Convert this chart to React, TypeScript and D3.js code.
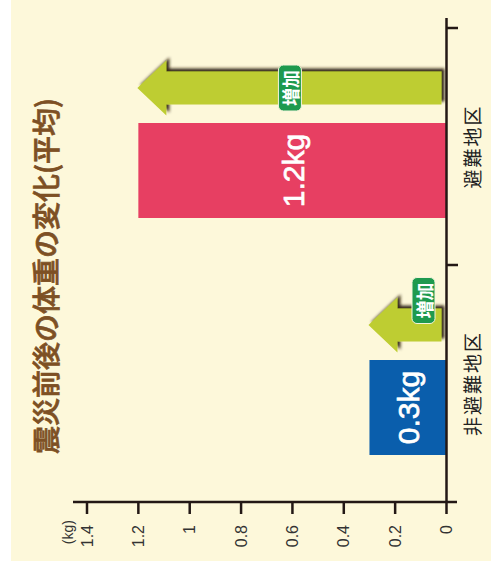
import React from "react";
import * as d3 from "d3";

const categories = ["避難地区", "非避難地区"];
const values = [1.2, 0.3];
const valueLabels = ["1.2kg", "0.3kg"];
const barColors = ["#E73F62", "#0A5EAC"];
const ticks = [0, 0.2, 0.4, 0.6, 0.8, 1, 1.2, 1.4];
const tickLabels = ["0", "0.2", "0.4", "0.6", "0.8", "1", "1.2", "1.4"];
const title = "震災前後の体重の変化(平均)";
const badgeText = "増加";
const unitLabel = "(kg)";

const W = 491;
const H = 566;
const JP = "'Noto Sans CJK JP', 'Noto Sans', sans-serif";
const SANS = "'Liberation Sans', Arial, sans-serif";
const AXIS = "#231815";

export default function App() {
  const x = d3.scaleLinear().domain([0, 1.4]).range([446.5, 87]);
  const y = d3.scaleBand<string>().domain(categories).range([28, 502]);
  const axisY = 502;
  const axisX = x(0);

  const arrowPath = (v: number, cy: number) => {
    const tip = x(v) - 1;
    const end = axisX - 5;
    const headLen = 29;
    const hh = 27.5;
    const sh = 16.5;
    const p = d3.path();
    p.moveTo(tip, cy);
    p.lineTo(tip + headLen, cy - hh);
    p.lineTo(tip + headLen, cy - sh);
    p.lineTo(end, cy - sh);
    p.lineTo(end, cy + sh);
    p.lineTo(tip + headLen, cy + sh);
    p.lineTo(tip + headLen, cy + hh);
    p.closePath();
    return p.toString();
  };

  return (
    <svg
      width={W}
      height={H}
      style={{ position: "absolute", left: 0, top: 0 }}
      xmlns="http://www.w3.org/2000/svg"
    >
      <defs>
        <filter id="sh" x="-10%" y="-40%" width="120%" height="180%">
          <feDropShadow dx="3" dy="-3" stdDeviation="1.6" floodColor="#2a1a08" floodOpacity="0.95" />
        </filter>
      </defs>
      <rect x={0} y={0} width={W} height={H} fill="#ffffff" />
      <rect x={11} y={0} width={W - 11} height={561} fill="#FDF8DA" />

      {/* title */}
      <text
        transform={`translate(44.5,276) rotate(-90)`}
        textAnchor="middle"
        dominantBaseline="central"
        fontFamily={JP}
        fontWeight={500}
        fontSize={28}
        fill="#7D5024"
        stroke="#7D5024"
        strokeWidth={0.7}
      >
        {title}
      </text>

      {/* bars, arrows */}
      {categories.map((c, i) => {
        const b = y(c) as number;
        const v = values[i];
        const y0 = b + 95;
        const y1 = b + 190;
        const cy = b + 60;
        const tip = x(v);
        const end = axisX - 5;
        const len = end - tip;
        const big = len > 150;
        const bx = big ? (tip + end) / 2 : end - 18;
        const by = big ? cy : cy - 24.5;
        return (
          <g key={c}>
            <rect x={x(v)} y={y0} width={axisX - x(v)} height={y1 - y0} fill={barColors[i]} />
            <text
              transform={`translate(${(x(v) + axisX) / 2 + 1},${(y0 + y1) / 2}) rotate(-90)`}
              textAnchor="middle"
              dominantBaseline="central"
              fontFamily={SANS}
              fontSize={30}
              fill="#ffffff"
              stroke="#ffffff"
              strokeWidth={0.7}
            >
              {valueLabels[i]}
            </text>
            <path d={arrowPath(v, cy)} fill="#BECD31" filter="url(#sh)" />
            <rect
              x={bx - 11.5}
              y={by - 23}
              width={23}
              height={46}
              rx={5}
              fill="#1E9A4E"
              stroke="#f4f4dc"
              strokeWidth={1}
            />
            <text
              transform={`translate(${bx + 0.5},${by}) rotate(-90)`}
              textAnchor="middle"
              dominantBaseline="central"
              fontFamily={JP}
              fontWeight="bold"
              fontSize={18}
              fill="#ffffff"
            >
              {badgeText}
            </text>
            <text
              transform={`translate(471,${b + y.bandwidth() / 2}) rotate(-90)`}
              textAnchor="middle"
              dominantBaseline="central"
              fontFamily={JP}
              fontSize={19}
              letterSpacing={2}
              fill="#222222"
            >
              {c}
            </text>
          </g>
        );
      })}

      {/* value axis */}
      <line x1={73} x2={457} y1={axisY} y2={axisY} stroke={AXIS} strokeWidth={2.5} />
      {ticks.map((t, i) => (
        <g key={t}>
          <line x1={x(t)} x2={x(t)} y1={axisY} y2={axisY + 12} stroke={AXIS} strokeWidth={2.5} />
          <text
            transform={`translate(${x(t)},525) rotate(-90)`}
            textAnchor="end"
            dominantBaseline="central"
            fontFamily={SANS}
            fontSize={16}
            fill="#333333"
          >
            {tickLabels[i]}
          </text>
        </g>
      ))}
      <text
        transform={`translate(68,520) rotate(-90)`}
        textAnchor="end"
        dominantBaseline="central"
        fontFamily={SANS}
        fontSize={14}
        fill="#333333"
      >
        {unitLabel}
      </text>

      {/* category axis */}
      <line x1={axisX} x2={axisX} y1={18} y2={axisY} stroke={AXIS} strokeWidth={2.5} />
      {categories.map((c) => (
        <line
          key={c}
          x1={axisX}
          x2={458}
          y1={y(c) as number}
          y2={y(c) as number}
          stroke={AXIS}
          strokeWidth={2.5}
        />
      ))}
    </svg>
  );
}
